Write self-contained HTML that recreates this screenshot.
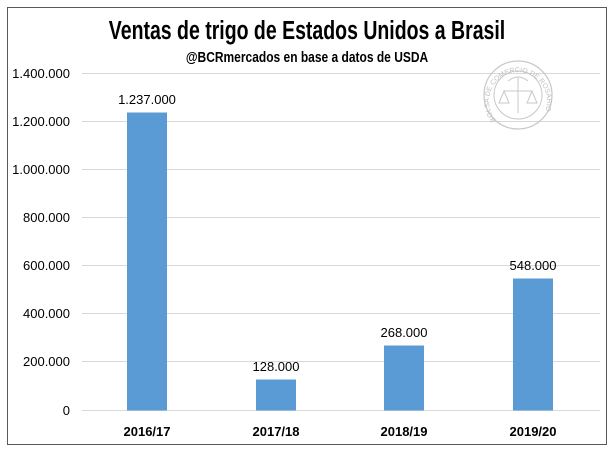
<!DOCTYPE html>
<html><head><meta charset="utf-8"><style>
body{margin:0;width:612px;height:451px;background:#fff;overflow:hidden}
svg{display:block}
</style></head><body>
<svg width="612" height="451" xmlns="http://www.w3.org/2000/svg">
<rect x="0" y="0" width="612" height="451" fill="#fff"/>
<rect x="7.5" y="7.5" width="599" height="437" fill="#fff" stroke="#595959" stroke-width="1"/>
<g transform="translate(307,0) scale(0.75,1)">
<text x="0" y="39" text-anchor="middle" font-family="Liberation Sans, sans-serif" font-weight="bold" font-size="26" fill="#000">Ventas de trigo de Estados Unidos a Brasil</text>
</g>
<g transform="translate(307,0) scale(0.8,1)">
<text x="0" y="62" text-anchor="middle" font-family="Liberation Sans, sans-serif" font-weight="bold" font-size="15" fill="#000">@BCRmercados en base a datos de USDA</text>
</g>
<g stroke="#d9d9d9" stroke-width="1">
<line x1="82" x2="600" y1="73.5" y2="73.5"/>
<line x1="82" x2="600" y1="121.5" y2="121.5"/>
<line x1="82" x2="600" y1="169.5" y2="169.5"/>
<line x1="82" x2="600" y1="217.5" y2="217.5"/>
<line x1="82" x2="600" y1="265.5" y2="265.5"/>
<line x1="82" x2="600" y1="313.5" y2="313.5"/>
<line x1="82" x2="600" y1="361.5" y2="361.5"/>
<line x1="82" x2="600" y1="410.5" y2="410.5"/>
</g>
<g font-family="Liberation Sans, sans-serif" font-size="13" fill="#000" text-anchor="end">
<text x="70" y="78">1.400.000</text>
<text x="70" y="126">1.200.000</text>
<text x="70" y="174">1.000.000</text>
<text x="70" y="222">800.000</text>
<text x="70" y="270">600.000</text>
<text x="70" y="318">400.000</text>
<text x="70" y="366">200.000</text>
<text x="70" y="415">0</text>
</g>
<g fill="#5b9bd5">
<rect x="127" y="112.5" width="40" height="298"/>
<rect x="256" y="379.5" width="40" height="31"/>
<rect x="384" y="345.5" width="40" height="65"/>
<rect x="513" y="278.5" width="40" height="132"/>
</g>
<g font-family="Liberation Sans, sans-serif" font-size="13" fill="#000" text-anchor="middle">
<text x="147" y="104">1.237.000</text>
<text x="276" y="371">128.000</text>
<text x="404" y="337">268.000</text>
<text x="533" y="270">548.000</text>
</g>
<g font-family="Liberation Sans, sans-serif" font-weight="bold" font-size="13" fill="#000" text-anchor="middle">
<text x="147" y="436">2016/17</text>
<text x="276" y="436">2017/18</text>
<text x="404" y="436">2018/19</text>
<text x="533" y="436">2019/20</text>
</g>
<defs><path id="arc" d="M496,120 A29,29 0 1,1 540,120"/></defs>
<g transform="translate(518,95)" stroke="#c8c8c8" fill="none">
<circle r="34" stroke-width="1.2"/>
<circle r="24" stroke-width="1"/>
<line x1="0" y1="-18" x2="0" y2="18"/>
<line x1="-14" y1="-4" x2="14" y2="-4"/>
<path d="M-14,-4 l-5,12 h10 z M14,-4 l-5,12 h10 z"/>
<path d="M-10,-14 q10,-8 20,0"/>
</g>
<text font-family="Liberation Sans, sans-serif" font-size="7" fill="#c0c0c0"><textPath href="#arc">BOLSA DE COMERCIO DE ROSARIO</textPath></text>
</svg>
</body></html>
